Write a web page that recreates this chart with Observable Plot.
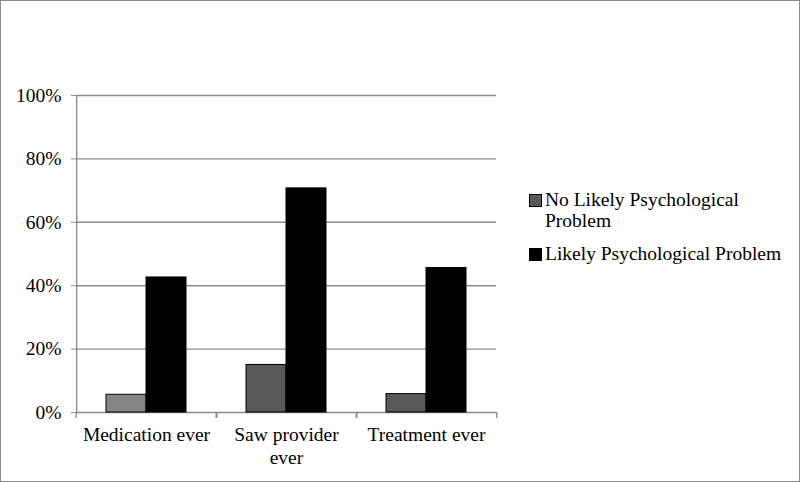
<!DOCTYPE html>
<html><head><meta charset="utf-8">
<script src="https://cdn.jsdelivr.net/npm/d3@7"></script>
<script src="https://cdn.jsdelivr.net/npm/@observablehq/plot@0.6"></script>
<style>
html,body{margin:0;padding:0;background:#fff;}
#wrap{position:relative;width:800px;height:482px;overflow:hidden;}
#border{position:absolute;left:0;top:0;width:800px;height:482px;box-sizing:border-box;border:1px solid #8a8a8a;pointer-events:none;}
#legend{position:absolute;left:529px;top:189px;font-family:"Liberation Serif",serif;font-size:19.5px;line-height:21px;color:#000;}
.item{display:flex;align-items:flex-start;margin-bottom:12px;}
.sw{width:11px;height:11px;border:1px solid #000;margin-top:5px;margin-right:3px;flex:none;}
</style>
</head><body>
<div id="wrap"><div id="legend"></div><div id="border"></div></div>
<script>
const categories = ["Medication ever", "Saw provider ever", "Treatment ever"];
const categoryLabels = ["Medication ever", "Saw provider\never", "Treatment ever"];
const seriesNames = ["No Likely Psychological Problem", "Likely Psychological Problem"];
const legendLabels = ["No Likely Psychological\nProblem", "Likely Psychological Problem"];
const noLikely = [0.056, 0.150, 0.058];
const likely = [0.426, 0.707, 0.456];
const yTicks = [0, 0.2, 0.4, 0.6, 0.8, 1.0];
const seriesColors = ["#595959", "#000000"];
const noLikelyBarColors = ["#858585", "#595959", "#595959"];

const rows = [];
categories.forEach((c, i) => {
  rows.push({category: c, series: seriesNames[0], value: noLikely[i], fill: noLikelyBarColors[i]});
  rows.push({category: c, series: seriesNames[1], value: likely[i], fill: seriesColors[1]});
});

const W = 800, H = 482, ML = 75, MR = 303, MT = 95, MB = 70;
const half = (W - ML - MR) / categories.length / 2;
const gridColor = "#8c8c8c";

const chart = Plot.plot({
  width: W, height: H,
  marginLeft: ML, marginRight: MR, marginTop: MT, marginBottom: MB,
  style: {fontFamily: "Liberation Serif", fontSize: "19.5px", color: "#000", background: "transparent"},
  fx: {domain: categories, padding: 0, label: null},
  x: {domain: seriesNames, paddingInner: 0, paddingOuter: 0.73, axis: null},
  y: {domain: [0, 1], label: null},
  marks: [
    Plot.gridY(yTicks, {stroke: gridColor, strokeOpacity: 1, strokeWidth: 1.4}),
    Plot.ruleX(categories, {fx: d => d, x: null, y1: 0, y2: 0, dx: -half, insetBottom: -6, stroke: gridColor, strokeWidth: 1.4}),
    Plot.ruleX(categories, {fx: d => d, x: null, y1: 0, y2: 0, dx: half, insetBottom: -6, stroke: gridColor, strokeWidth: 1.4}),
    Plot.ruleX([categories[0]], {fx: d => d, x: null, y1: 0, y2: 1, dx: -half + 0.5, stroke: gridColor, strokeWidth: 1.4}),
    Plot.barY(rows, {fx: "category", x: "series", y: "value", fill: "fill", stroke: "#000", strokeWidth: 1}),
    Plot.axisY({ticks: yTicks, tickFormat: d3.format(".0%"), tickSize: 5, tickPadding: 10, stroke: gridColor, fill: "#000", fontSize: 19.5, label: null}),
    Plot.axisFx({anchor: "bottom", tickSize: 0, tickPadding: 13, tickFormat: d => categoryLabels[categories.indexOf(d)], fontSize: 19.5, lineHeight: 1.15, label: null})
  ]
});
document.getElementById("wrap").prepend(chart);

const legend = document.getElementById("legend");
seriesNames.forEach((s, i) => {
  const item = document.createElement("div");
  item.className = "item";
  const sw = document.createElement("div");
  sw.className = "sw";
  sw.style.background = seriesColors[i];
  const t = document.createElement("div");
  t.style.whiteSpace = "pre";
  t.textContent = legendLabels[i];
  item.appendChild(sw); item.appendChild(t);
  legend.appendChild(item);
});
</script>
</body></html>
